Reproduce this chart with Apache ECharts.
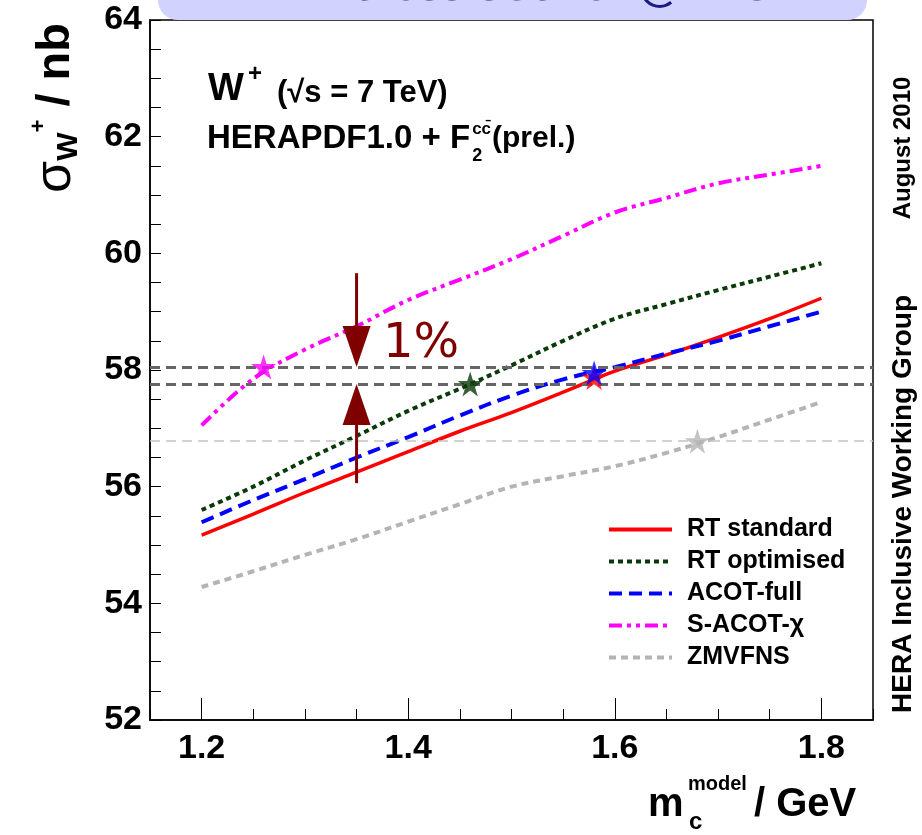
<!DOCTYPE html>
<html><head><meta charset="utf-8">
<script src="https://cdn.jsdelivr.net/npm/echarts@6/dist/echarts.min.js"></script>
<style>html,body{margin:0;padding:0;background:#fff}#c{width:922px;height:835px}</style>
</head><body><div id="c"></div>
<script>
// ---- data ----
const mc = [1.2, 1.25, 1.3, 1.35, 1.4, 1.45, 1.5, 1.55, 1.6, 1.65, 1.7, 1.75, 1.8];
const rtStandard  = [55.17, 55.53, 55.90, 56.25, 56.60, 56.95, 57.27, 57.62, 57.98, 58.26, 58.56, 58.88, 59.23];
const rtOptimised = [55.60, 56.00, 56.45, 56.87, 57.30, 57.68, 58.08, 58.50, 58.88, 59.13, 59.37, 59.60, 59.83];
const acotFull    = [55.39, 55.77, 56.13, 56.50, 56.85, 57.22, 57.56, 57.84, 58.05, 58.28, 58.50, 58.75, 59.00];
const sacotChi    = [57.05, 57.85, 58.35, 58.75, 59.20, 59.55, 59.90, 60.30, 60.70, 60.95, 61.20, 61.35, 61.50];
const zmvfns      = [54.28, 54.55, 54.83, 55.10, 55.40, 55.70, 56.00, 56.18, 56.35, 56.58, 56.85, 57.15, 57.45];
const seriesNames = ['RT standard', 'RT optimised', 'ACOT-full', 'S-ACOT-\u03c7', 'ZMVFNS'];

const starMc    = [1.26, 1.46, 1.58, 1.58, 1.68];
const starSigma = [58.05, 57.76, 57.87, 57.95, 56.78];

const bandSigma = [58.05, 57.76];
const refSigma = [56.78];

const arrowMc = 1.35;
const arrowFrom = [59.66, 56.06];
const arrowTo   = [58.05, 57.76];

const xMajorTicks = [1.2, 1.4, 1.6, 1.8];
const yMin = 52, yMax = 64, yStep = 2;
const xMin = 1.15, xMax = 1.85, xMinorStep = 0.05;

// ---- styles ----
const colors = ['#ff0000', '#0a3a0a', '#0000ff', '#ff00ff', '#b4b4b4'];
const dashes = ['solid', [5, 4], [13, 7], [13, 5, 4, 5, 4, 5], [7, 5]];
const widths = [3.5, 4, 4, 4, 4];
const starColors = ['#ff00ff', '#0a3a0a', '#ff0000', '#0000ff', '#b4b4b4'];
const curves = [rtStandard, rtOptimised, acotFull, sacotChi, zmvfns];
const FONT = 'Liberation Sans';
const starPath = 'path://M50,0 L61.2,34.5 L97.6,34.5 L68.2,55.9 L79.4,90.5 L50,69.1 L20.6,90.5 L31.8,55.9 L2.4,34.5 L38.8,34.5 Z';

const mctx = document.createElement('canvas').getContext('2d');
function tw(text, size) { mctx.font = 'bold ' + size + 'px "' + FONT + '"'; return mctx.measureText(text).width; }
const l2x = 207, l2size = 33;
const fEnd = l2x + tw('HERAPDF1.0 + F', l2size);
const supEnd = fEnd + 2 + tw('cc', 17);

const chart = echarts.init(document.getElementById('c'), null, {renderer: 'canvas'});

const lineSeries = curves.map((arr, i) => ({
  name: seriesNames[i],
  type: 'line',
  data: mc.map((m, j) => [m, arr[j]]),
  symbol: 'none',
  showSymbol: false,
  smooth: 0.35,
  z: 3,
  lineStyle: {color: colors[i], width: widths[i], type: dashes[i]},
  itemStyle: {color: colors[i]}
}));

const option = {
  animation: false,
  backgroundColor: '#fff',
  grid: {left: 150, right: 49, top: 20, bottom: 115, show: true, borderColor: '#000', borderWidth: 1.5, backgroundColor: 'transparent'},
  xAxis: [
    {type: 'value', min: xMin, max: xMax,
     axisLine: {show: true, lineStyle: {color: '#000', width: 1.5}},
     splitLine: {show: false},
     axisTick: {show: true, inside: true, length: 22, customValues: xMajorTicks, lineStyle: {color: '#000', width: 1}},
     axisLabel: {customValues: xMajorTicks, formatter: v => v.toFixed(1), fontSize: 34, fontWeight: 'bold', color: '#000', margin: 12, fontFamily: FONT}},
    {type: 'value', min: xMin, max: xMax, interval: xMinorStep, position: 'bottom',
     axisLine: {show: false}, splitLine: {show: false},
     axisTick: {show: true, inside: true, length: 11, lineStyle: {color: '#000', width: 1}},
     axisLabel: {show: false}}
  ],
  yAxis: {type: 'value', min: yMin, max: yMax, interval: yStep,
    axisLine: {show: true, lineStyle: {color: '#000', width: 1.5}},
    splitLine: {show: false},
    axisTick: {show: true, inside: true, length: 11, lineStyle: {color: '#000', width: 1}},
    minorTick: {show: true, splitNumber: 4, length: 11, lineStyle: {color: '#000', width: 1}},
    axisLabel: {fontSize: 34, fontWeight: 'bold', color: '#000', margin: 8, fontFamily: FONT}},
  legend: {
    data: seriesNames, orient: 'vertical', left: 602, top: 512,
    itemWidth: 63, itemHeight: 14, itemGap: 7,
    itemStyle: {opacity: 0, borderWidth: 0},
    lineStyle: {width: 4},
    textStyle: {fontSize: 25, fontWeight: 'bold', color: '#000', fontFamily: FONT, lineHeight: 25, padding: [0, 0, 0, 10]},
    selectedMode: false
  },
  series: [
    ...lineSeries,
    {type: 'line', name: 'bands', data: [], silent: true,
     markLine: {silent: true, symbol: 'none', label: {show: false}, animation: false,
       data: [
         ...bandSigma.map(v => ({yAxis: v, lineStyle: {color: '#666', width: 3, type: [10, 6]}})),
         ...refSigma.map(v => ({yAxis: v, lineStyle: {color: '#c4c4c4', width: 1.5, type: [10, 6]}}))
       ]}},
    {type: 'scatter', name: 'stars', symbol: starPath, symbolSize: 25, z: 10, silent: true,
     data: starMc.map((m, i) => ({value: [m, starSigma[i]], itemStyle: {color: starColors[i]}}))},
    {type: 'custom', name: 'arrows', z: 11, silent: true,
     encode: {x: 0, y: [1, 2]},
     data: arrowFrom.map((f, i) => [arrowMc, f, arrowTo[i]]),
     renderItem: function (params, api) {
       const p0 = api.coord([api.value(0), api.value(1)]);
       const p1 = api.coord([api.value(0), api.value(2)]);
       const dir = Math.sign(p1[1] - p0[1]);
       const headLen = 41, hw = 14;
       const base = p1[1] - dir * headLen;
       return {type: 'group', children: [
         {type: 'line', shape: {x1: p0[0], y1: p0[1], x2: p0[0], y2: base}, style: {stroke: '#800000', lineWidth: 3}},
         {type: 'polygon', shape: {points: [[p1[0], p1[1]], [p1[0] - hw, base], [p1[0] + hw, base]]}, style: {fill: '#800000'}}
       ]};
     }}
  ],
  graphic: [
    {type: 'rect', z: 100, shape: {x: 158, y: -40, width: 709, height: 60, r: 20}, style: {fill: '#d2d2ff'}},
    {type: 'text', z: 101, x: 520, y: 11, style: {text: 'W\u207a cross section@LHC', fontSize: 44, fontFamily: 'DejaVu Sans', fill: '#1a1a80', align: 'center', verticalAlign: 'bottom'}},
    // y axis title
    {type: 'text', x: 56, y: 108, rotation: Math.PI / 2, style: {
      text: '{s|\u03c3}{sub|W}{sup|+}{b| / nb}', align: 'center', verticalAlign: 'middle',
      rich: {
        s: {fontSize: 52, fontFamily: FONT, fill: '#000', lineHeight: 56, verticalAlign: 'middle'},
        sub: {fontSize: 30, fontFamily: FONT, fontWeight: 'bold', fill: '#000', verticalAlign: 'bottom', lineHeight: 56},
        sup: {fontSize: 22, fontFamily: FONT, fontWeight: 'bold', fill: '#000', verticalAlign: 'top', lineHeight: 50},
        b: {fontSize: 47, fontFamily: FONT, fontWeight: 'bold', fill: '#000', lineHeight: 56, verticalAlign: 'middle'}
      }}},
    // x axis title
    {type: 'text', x: 648, y: 805, style: {text: 'm', fontSize: 40, fontWeight: 'bold', fontFamily: FONT, fill: '#000', verticalAlign: 'middle'}},
    {type: 'text', x: 688, y: 784, style: {text: 'model', fontSize: 20, fontWeight: 'bold', fontFamily: FONT, fill: '#000', verticalAlign: 'middle'}},
    {type: 'text', x: 689, y: 822, style: {text: 'c', fontSize: 24, fontWeight: 'bold', fontFamily: FONT, fill: '#000', verticalAlign: 'middle'}},
    {type: 'text', x: 754, y: 805, style: {text: '/ GeV', fontSize: 40, fontWeight: 'bold', fontFamily: FONT, fill: '#000', verticalAlign: 'middle'}},
    // plot labels
    {type: 'text', x: 208, y: 90, style: {text: 'W', fontSize: 38, fontWeight: 'bold', fontFamily: FONT, fill: '#000', verticalAlign: 'middle'}},
    {type: 'text', x: 248, y: 74, style: {text: '+', fontSize: 24, fontWeight: 'bold', fontFamily: FONT, fill: '#000', verticalAlign: 'middle'}},
    {type: 'text', x: 277, y: 93, style: {text: '(\u221as = 7 TeV)', fontSize: 31, fontWeight: 'bold', fontFamily: FONT, fill: '#000', verticalAlign: 'middle'}},
    {type: 'text', x: l2x, y: 139, style: {text: 'HERAPDF1.0 + F', fontSize: l2size, fontWeight: 'bold', fontFamily: FONT, fill: '#000', verticalAlign: 'middle'}},
    {type: 'text', x: fEnd + 2, y: 129, style: {text: 'cc\u0304', fontSize: 17, fontWeight: 'bold', fontFamily: FONT, fill: '#000', verticalAlign: 'middle'}},
    {type: 'text', x: fEnd + 2, y: 156, style: {text: '2', fontSize: 18, fontWeight: 'bold', fontFamily: FONT, fill: '#000', verticalAlign: 'middle'}},
    {type: 'text', x: supEnd + 1, y: 139, style: {text: '(prel.)', fontSize: 30, fontWeight: 'bold', fontFamily: FONT, fill: '#000', verticalAlign: 'middle'}},
    {type: 'text', x: 383, y: 345, style: {text: '1%', fontSize: 48, fontFamily: 'DejaVu Sans', fill: '#800000', verticalAlign: 'middle'}},
    // right side labels
    {type: 'text', x: 903, y: 148, rotation: Math.PI / 2, style: {text: 'August 2010', fontSize: 24, fontWeight: 'bold', fontFamily: FONT, fill: '#000', align: 'center', verticalAlign: 'middle'}},
    {type: 'text', x: 903, y: 504, rotation: Math.PI / 2, style: {text: 'HERA Inclusive Working Group', fontSize: 28, fontWeight: 'bold', fontFamily: FONT, fill: '#000', align: 'center', verticalAlign: 'middle'}}
  ]
};
chart.setOption(option);
</script></body></html>
